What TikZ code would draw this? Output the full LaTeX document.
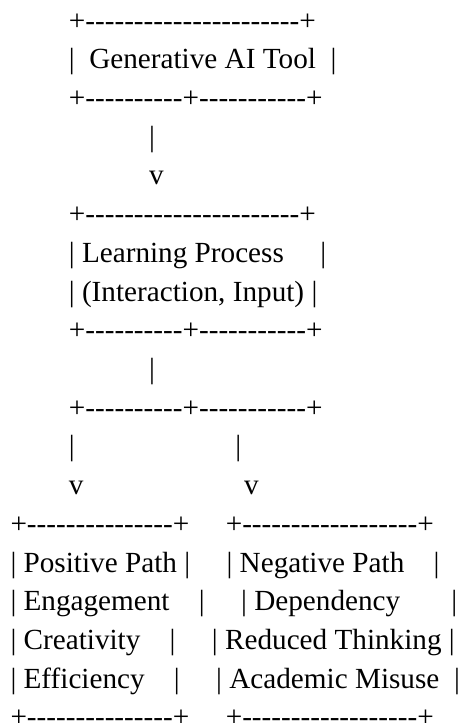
\documentclass[tikz,border=0pt]{standalone}
\usepackage{fontspec}
\setmainfont{Liberation Serif}[Ligatures=TeXOff]
\begin{document}
\begin{tikzpicture}[x=1pt,y=-1pt,
  asc/.style={anchor=base west,inner sep=0pt,outer sep=0pt,font=\fontsize{29.2}{38.7}\selectfont,text=black}]
\useasboundingbox (0,0) rectangle (460,723);
\node[asc] (l1)  at (10.5,30.0)   {\ \ \ \ \ \ \ \ +----------------------+};
\node[asc] (l2)  at (10.5,68.72)  {\ \ \ \ \ \ \ \ |\ \ Generative AI Tool\ \ |};
\node[asc] (l3)  at (10.5,107.44) {\ \ \ \ \ \ \ \ +----------+-----------+};
\node[asc] (l4)  at (10.5,146.16) {\ \ \ \ \ \ \ \ \ \ \ \ \ \ \ \ \ \ \ |};
\node[asc] (l5)  at (10.5,184.88) {\ \ \ \ \ \ \ \ \ \ \ \ \ \ \ \ \ \ \ v};
\node[asc] (l6)  at (10.5,223.6)  {\ \ \ \ \ \ \ \ +----------------------+};
\node[asc] (l7)  at (10.5,262.32) {\ \ \ \ \ \ \ \ |\ Learning Process\ \ \ \ \ |};
\node[asc] (l8)  at (10.5,301.04) {\ \ \ \ \ \ \ \ |\ (Interaction, Input)\ |};
\node[asc] (l9)  at (10.5,339.76) {\ \ \ \ \ \ \ \ +----------+-----------+};
\node[asc] (l10) at (10.5,378.48) {\ \ \ \ \ \ \ \ \ \ \ \ \ \ \ \ \ \ \ |};
\node[asc] (l11) at (10.5,417.2)  {\ \ \ \ \ \ \ \ +----------+-----------+};
\node[asc] (l12) at (10.5,455.92) {\ \ \ \ \ \ \ \ |\ \ \ \ \ \ \ \ \ \ \ \ \ \ \ \ \ \ \ \ \ \ |};
\node[asc] (l13) at (10.5,494.64) {\ \ \ \ \ \ \ \ v\ \ \ \ \ \ \ \ \ \ \ \ \ \ \ \ \ \ \ \ \ \ v};
\node[asc] (l14) at (10.5,533.36) {+---------------+\ \ \ \ \ +------------------+};
\node[asc] (l15) at (10.5,572.08) {|\ Positive Path\ |\ \ \ \ \ |\ Negative Path\ \ \ \ |};
\node[asc] (l16) at (10.5,610.8)  {|\ Engagement\ \ \ \ |\ \ \ \ \ |\ Dependency\ \ \ \ \ \ \ |};
\node[asc] (l17) at (10.5,649.52) {|\ Creativity\ \ \ \ |\ \ \ \ \ |\ Reduced Thinking\ |};
\node[asc] (l18) at (10.5,688.24) {|\ Efficiency\ \ \ \ |\ \ \ \ \ |\ Academic Misuse\ \ |};
\node[asc] (l19) at (10.5,726.96) {+---------------+\ \ \ \ \ +------------------+};
\end{tikzpicture}
\end{document}
